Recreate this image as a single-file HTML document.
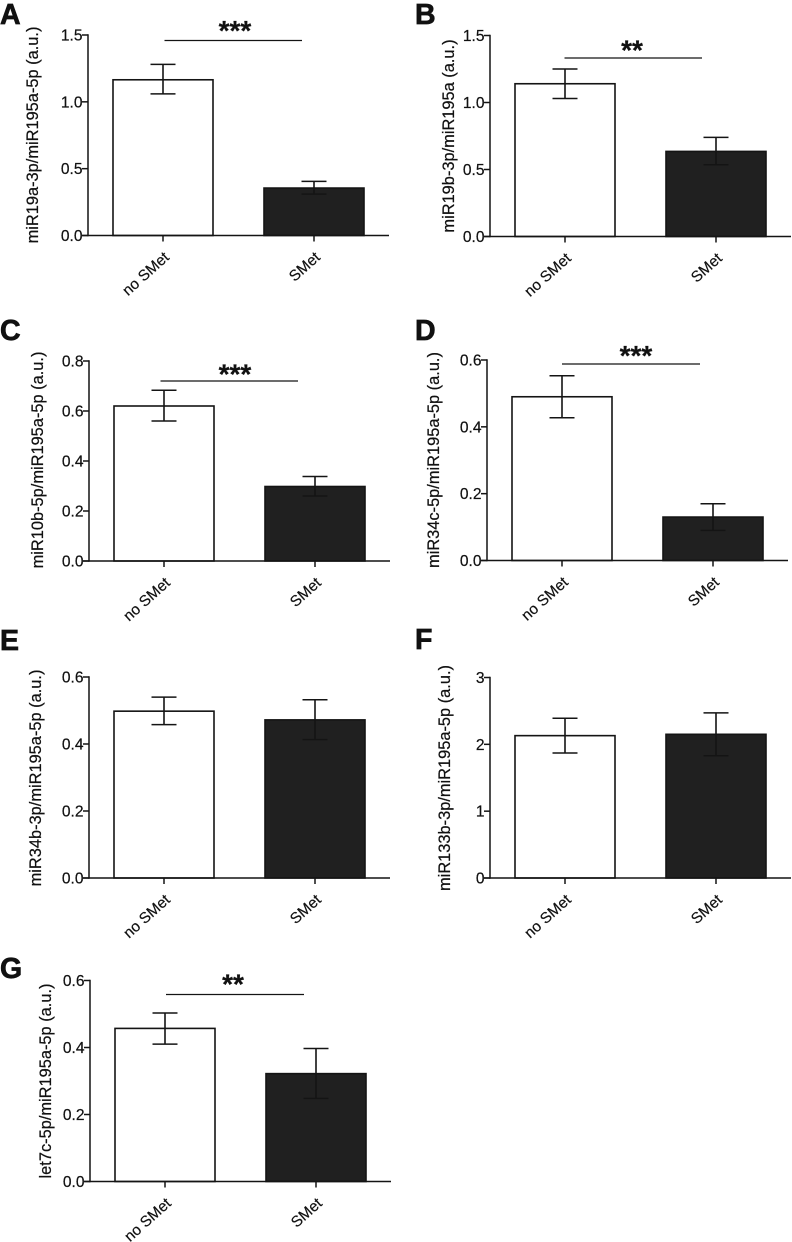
<!DOCTYPE html>
<html lang="en">
<head>
<meta charset="utf-8">
<title>miRNA ratio bar charts</title>
<style>
html,body{margin:0;padding:0;background:#fff;width:792px;height:1242px;overflow:hidden}
svg{display:block;font-family:"Liberation Sans",Arial,sans-serif}
text{fill:#111;stroke:#111;stroke-width:0.22px}
</style>
</head>
<body>
<svg id="figure" xmlns="http://www.w3.org/2000/svg" width="792" height="1242" viewBox="0 0 792 1242"></svg>
<script>
// ---- data ----
const panelLetters = ['A','B','C','D','E','F','G'];
const categories = ['no SMet','SMet'];
const yTitles = [
  'miR19a-3p/miR195a-5p (a.u.)',
  'miR19b-3p/miR195a (a.u.)',
  'miR10b-5p/miR195a-5p (a.u.)',
  'miR34c-5p/miR195a-5p (a.u.)',
  'miR34b-3p/miR195a-5p (a.u.)',
  'miR133b-3p/miR195a-5p (a.u.)',
  'let7c-5p/miR195a-5p (a.u.)'
];
const tickLabels = [
  ['0.0','0.5','1.0','1.5'],
  ['0.0','0.5','1.0','1.5'],
  ['0.0','0.2','0.4','0.6','0.8'],
  ['0.0','0.2','0.4','0.6'],
  ['0.0','0.2','0.4','0.6'],
  ['0','1','2','3'],
  ['0.0','0.2','0.4','0.6']
];
const meansNoSMet = [1.165, 1.14, 0.62, 0.49, 0.498, 2.13, 0.457];
const meansSMet   = [0.355, 0.635, 0.298, 0.13, 0.472, 2.15, 0.322];
const errLowNoSMet  = [1.06, 1.03, 0.56, 0.427, 0.458, 1.87, 0.41];
const errHighNoSMet = [1.28, 1.25, 0.683, 0.553, 0.54, 2.39, 0.503];
const errLowSMet    = [0.31, 0.535, 0.26, 0.09, 0.413, 1.83, 0.248];
const errHighSMet   = [0.405, 0.74, 0.338, 0.17, 0.532, 2.47, 0.397];
const significance = ['***','**','***','***','','','**'];

// ---- page layout (not data) ----
const panelLayout = [
  {ax:88,  y0:235.5, top:35,    titleX:33,  titleY:135,  letterX:0,   letterY:24,  sigL:164.5, sigR:302, sigY:40.5, starX:235, starDy:-13.5},
  {ax:490, y0:236.5, top:35.5,  titleX:449, titleY:136,  letterX:415, letterY:24,  sigL:564.5, sigR:702, sigY:58,   starX:632, starDy:-11.5},
  {ax:89,  y0:561,   top:361,   titleX:38,  titleY:460,  letterX:0,   letterY:340, sigL:160.5, sigR:298, sigY:381,  starX:235, starDy:-10.5},
  {ax:487, y0:560.5, top:360,   titleX:434, titleY:460,  letterX:415, letterY:340, sigL:562,   sigR:700, sigY:364,  starX:636, starDy:-12},
  {ax:89,  y0:878,   top:677,   titleX:36,  titleY:778,  letterX:0,   letterY:650, sigL:0,     sigR:0,   sigY:0,    starX:0,   starDy:0},
  {ax:490, y0:878,   top:677.5, titleX:445, titleY:778,  letterX:415, letterY:649, sigL:0,     sigR:0,   sigY:0,    starX:0,   starDy:0},
  {ax:90,  y0:1181.5,top:980.5, titleX:46,  titleY:1081, letterX:0,   letterY:978, sigL:166,   sigR:304, sigY:994.5,starX:233, starDy:-14}
];

const NS = 'http://www.w3.org/2000/svg';
const figure = document.getElementById('figure');
const INK = '#141414';

function make(parent, tag, props, content) {
  const el = document.createElementNS(NS, tag);
  for (const k in props) el.setAttribute(k, props[k]);
  if (content !== undefined) el.textContent = content;
  parent.appendChild(el);
  return el;
}
function strokeLine(parent, x1, y1, x2, y2, w) {
  return make(parent, 'line', {x1:x1, y1:y1, x2:x2, y2:y2, stroke:INK, 'stroke-width':w});
}

panelLetters.forEach(function (letter, i) {
  const L = panelLayout[i];
  const labels = tickLabels[i];
  const yMax = parseFloat(labels[labels.length - 1]);
  const yMin = parseFloat(labels[0]);
  const yScale = function (v) { return L.y0 - (v - yMin) / (yMax - yMin) * (L.y0 - L.top); };
  const barLeft = function (c) { return L.ax + 25 + c * 151; };
  const barCenter = function (c) { return barLeft(c) + 50; };
  const key = letter.toLowerCase();

  const g = make(figure, 'g', {});
  
  

  const letterEl = make(g, 'text', {x:L.letterX, y:L.letterY, 'font-size':28.5, 'font-weight':'bold', style:'stroke-width:0.7px'}, letter);
  
  

  const titleEl = make(g, 'text', {
    x:0, y:0, 'font-size':16.4, 'text-anchor':'middle', 'dominant-baseline':'central',
    transform:'translate(' + L.titleX + ',' + L.titleY + ') rotate(-90)'
  }, yTitles[i]);
  
  

  const means = [meansNoSMet[i], meansSMet[i]];
  const lows = [errLowNoSMet[i], errLowSMet[i]];
  const highs = [errHighNoSMet[i], errHighSMet[i]];

  categories.forEach(function (cat, c) {
    const catKey = c === 0 ? 'no-smet' : 'smet';
    const bar = make(g, 'rect', {
      x:barLeft(c), y:yScale(means[c]), width:100, height:L.y0 - yScale(means[c]),
      fill:c === 0 ? '#ffffff' : '#202020', stroke:INK, 'stroke-width':1.6
    });
    
    

    const err = make(g, 'g', {});
    
    
    const cx = barCenter(c);
    strokeLine(err, cx, yScale(lows[c]), cx, yScale(highs[c]), 1.6);
    strokeLine(err, cx - 12.5, yScale(highs[c]), cx + 12.5, yScale(highs[c]), 1.5);
    strokeLine(err, cx - 12.5, yScale(lows[c]), cx + 12.5, yScale(lows[c]), 1.5);

    const tick = strokeLine(g, cx, L.y0, cx, L.y0 + 6, 1.5);
    
    

    const lab = make(g, 'text', {
      x:0, y:0, 'font-size':15.2, 'text-anchor':'end',
      transform:'translate(' + (cx + 7) + ',' + (L.y0 + 23) + ') rotate(-42)'
    }, cat);
    
    
  });

  const yAxis = strokeLine(g, L.ax, L.top - 0.7, L.ax, L.y0 + 0.7, 1.5);
  
  

  const xAxis = strokeLine(g, L.ax - 6, L.y0, L.ax + 301, L.y0, 1.5);
  
  

  labels.forEach(function (t) {
    const v = parseFloat(t);
    const yt = yScale(v);
    const tick = strokeLine(g, L.ax - 6, yt, L.ax, yt, 1.5);
    
    
    const lab = make(g, 'text', {x:L.ax - 5.5, y:yt + 5.5, 'font-size':15.6, 'text-anchor':'end'}, t);
    
    
  });

  if (significance[i]) {
    const sig = strokeLine(g, L.sigL, L.sigY, L.sigR, L.sigY, 1.3);
    
    
    const star = make(g, 'text', {
      x:L.starX, y:L.sigY + L.starDy + 13, 'font-size':28, 'font-weight':'bold', 'text-anchor':'middle'
    }, significance[i]);
    
    
  }
});
</script>
</body>
</html>
